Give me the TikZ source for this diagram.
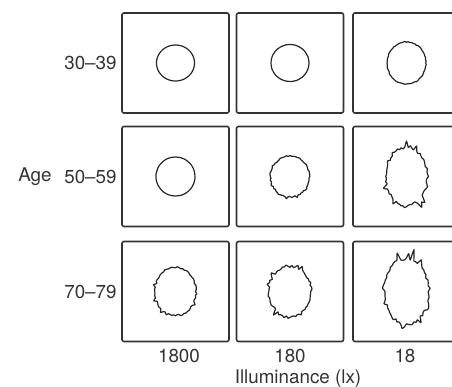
\documentclass[tikz,border=0pt]{standalone}
\usepackage{fontspec}
\setmainfont{TeX Gyre Heros}
\usetikzlibrary{positioning}

\begin{document}
\begin{tikzpicture}[x=0.5pt, y=-0.5pt,
    panel/.style={draw=black!80, line width=0.8pt, rounded corners=1pt, minimum width=53.5pt, minimum height=50pt, inner sep=0pt},
    blob/.style={draw=black!85, line width=0.6pt, line join=round},
    lbl/.style={font=\fontsize{9.4}{11}\selectfont, text=black!80, inner sep=0pt}
]
    \useasboundingbox (0,0) rectangle (452,387);
    \clip (0,0) rectangle (452,387);

    % ── Panels (3 rows x 3 columns, last column cut by the page) ──
    \foreach \r/\y in {1/63, 2/176.5, 3/291.5}
      \foreach \c/\x in {1/175.5, 2/290, 3/406.5}
        \node[panel] (p\r\c) at (\x,\y) {};

    % ── Pupil outlines: rx/ry, noise, spikes ──
    \pgfmathsetseed{23}
    \foreach \p/\rx/\ry/\n/\s in {p11/19/18/0/0, p12/19/18.5/0.01/0, p13/19.5/21/0.04/0.04,
                                 p21/19.5/19.5/0.01/0, p22/19.5/20.5/0.06/0.1, p23/20.5/29/0.07/0.3,
                                 p31/20.5/24/0.07/0.14, p32/21/25/0.08/0.2, p33/22/33/0.09/0.4}{
      \xdef\pts{}
      \foreach \t in {0,5,...,355}{
        \pgfmathsetmacro\f{1+\n*(rnd-0.5)+\s*rnd^10}
        \pgfmathsetmacro\px{\rx*\f*cos(\t)}
        \pgfmathsetmacro\py{\ry*\f*sin(\t)}
        \xdef\pts{\pts (\px,\py)}
      }
      \begin{scope}[shift={(\p.center)}]
        \edef\tmp{\noexpand\draw[blob] plot[smooth cycle, tension=0.3] coordinates {\pts};}
        \tmp
      \end{scope}
    }

    % ── Row labels ──
    \node[lbl, anchor=east] (r1) at (117,63) {30--39};
    \node[lbl, anchor=east] (r2) at (117,176.5) {50--59};
    \node[lbl, anchor=east] (r3) at (117,292) {70--79};
    \node[lbl] (age) at (35,176.5) {Age};

    % ── Column labels ──
    \node[lbl] (c1) at (179,356) {1800};
    \node[lbl] (c2) at (290,356) {180};
    \node[lbl] (c3) at (405,356) {18};
    \node[lbl] (axis) at (298,379) {Illuminance (lx)};

\end{tikzpicture}
\end{document}
